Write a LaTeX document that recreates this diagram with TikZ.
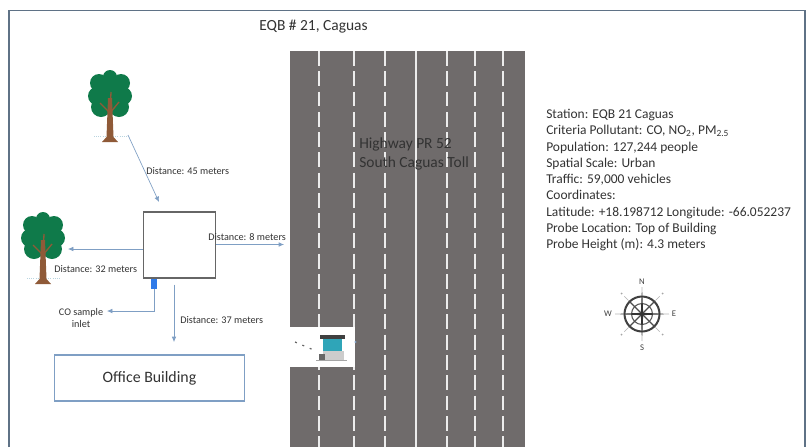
\documentclass[tikz,border=0pt]{standalone}
\usepackage{fontspec}
\setmainfont{Carlito}
\usetikzlibrary{arrows.meta}
\definecolor{roadc}{HTML}{6F6B6B}
\definecolor{framec}{HTML}{5F7286}
\definecolor{arrowc}{HTML}{7F9FC4}
\definecolor{txtc}{HTML}{333333}
\definecolor{leaf}{HTML}{0F7A4A}
\definecolor{bark}{HTML}{8F5A38}
\definecolor{boothc}{HTML}{2FA5B8}
\tikzset{
  x=0.75pt,y=-0.75pt,
  lbl/.style={inner sep=0pt,anchor=west,text=txtc,font=\fontsize{7.65pt}{9pt}\selectfont},
  conn/.style={draw=arrowc,line width=0.5pt,-{Latex[length=4pt,width=3.5pt]}},
  boxline/.style={draw=#1,line width=0.8pt,fill=white,inner sep=0pt},
  lanedash/.style={draw=white!85!gray,line width=0.8pt,dash pattern=on 11.2pt off 4pt},
  compasslbl/.style={inner sep=0pt,text=black!75,font=\fontsize{6.5pt}{7pt}\selectfont},
  pics/treepic/.style={code={
    \fill[leaf] (0,-18) circle[radius=7];
    \fill[leaf] (-11,-12) circle[radius=9] (11,-12) circle[radius=9]
      (-13,1) circle[radius=9] (13,1) circle[radius=9]
      (-9,12) circle[radius=10] (9,12) circle[radius=10] (0,0) circle[radius=17];
    \draw[draw=cyan!40!gray!45,line width=0.6pt,densely dotted] (-16,41) -- (17,41);
    \fill[bark] (-2,3) -- (2,3) -- (3.5,42) -- (8,47) -- (-8,47) -- (-3.5,42) -- cycle;
    \draw[bark,line width=1pt] (0,18) -- (-10,8) (0,18) -- (9,7) (0,18) -- (1,-3);
  }}
}
\begin{document}
\begin{tikzpicture}
\useasboundingbox (0,0) rectangle (806,447);
\fill[white] (0,0) rectangle (806,447);
% frame
\draw[framec,line width=1pt] (9,447) -- (9,10.5) -- (805,10.5) -- (805,447);
% road
\fill[roadc] (290,51) rectangle (525,447);
\foreach \lx in {319,354,385,447,475,503}{
  \draw[lanedash] (\lx,51) -- (\lx,447);
}
\draw[draw=white!85!gray,line width=0.8pt] (416,51) -- (416,447);
% toll plaza
\fill[white] (290,327) rectangle (355,367);
\fill[arrowc] (355.5,342) circle[radius=1.2];
\draw[gray!80!black,line width=0.9pt,dash pattern=on 1.5pt off 4.5pt] (295,342) -- (316,351);
\fill[black!75] (320,335) rectangle (345,339);
\fill[boothc] (323,339) rectangle (342,351);
\fill[gray!40] (323,351) rectangle (344,360);
\fill[black!60] (319,354) rectangle (325,360);
\draw[gray!70,line width=0.7pt] (316,360.5) -- (347,360.5);
% title
\node[inner sep=0pt,text=txtc,font=\fontsize{11.6pt}{13pt}\selectfont] (title) at (313.5,27) {EQB \# 21, Caguas};
% trees
\pic at (110,95) {treepic};
\pic at (43,237) {treepic};
% buildings
\node[boxline=black!60,minimum width=54.5pt,minimum height=49.5pt] (station) at (179.5,245) {};
\node[draw=none,fill=arrowc!50!blue!75!cyan,minimum width=5.2pt,minimum height=7.5pt,inner sep=0pt] (inlet) at (154,283.5) {};
\node[boxline=arrowc,minimum width=143pt,minimum height=34.5pt,text=txtc,font=\fontsize{11.9pt}{13pt}\selectfont] (office) at (149.5,378) {Office Building};
% free ends
\coordinate (treeA) at (128,135);
\coordinate (aboveStation) at (159,202);
\coordinate (treeB) at (68,249);
\coordinate (roadEdge) at (284,244.5);
\coordinate (inletEnd) at (107,311);
\coordinate (belowStation) at (174,342);
% connectors
\draw[conn] (treeA) -- (aboveStation);
\draw[conn] (station.west |- treeB) -- (treeB);
\draw[conn] (station.east |- roadEdge) -- (roadEdge);
\draw[conn] (inlet.south) |- (inletEnd);
\draw[conn] ([yshift=-4.5pt]belowStation |- station.south) -- (belowStation);
% labels
\node[lbl] (d45) at (146,171) {Distance: 45 meters};
\node[lbl] (d8) at (208,237) {Distance: 8 meters};
\node[lbl] (d32) at (54,269) {Distance: 32 meters};
\node[lbl] (d37) at (180,320) {Distance: 37 meters};
\node[inner sep=0pt,align=center,text=txtc,font=\fontsize{7.65pt}{9.2pt}\selectfont] (co) at (81,318) {CO sample\\inlet};
\node[inner sep=0pt,anchor=west,align=left,text=black!80,font=\fontsize{11.6pt}{14.3pt}\selectfont] (hwy) at (359,153.5) {Highway PR 52\\South Caguas Toll};
\node[inner sep=0pt,anchor=north west,align=left,text=txtc,font=\fontsize{10.1pt}{12.2pt}\selectfont] (info) at (546,109) {Station: EQB 21 Caguas\\
Criteria Pollutant: CO, NO\textsubscript{2}, PM\textsubscript{2.5}\\
Population: 127,244 people\\
Spatial Scale: Urban\\
Traffic: 59,000 vehicles\\
Coordinates:\\
Latitude: +18.198712 Longitude: -66.052237\\
Probe Location: Top of Building\\
Probe Height (m): 4.3 meters};
% compass
\begin{scope}[shift={(642,314)}]
\draw[black!75,line width=1.5pt] (0,0) circle[radius=17.5];
\draw[black!65,line width=0.8pt] (0,0) circle[radius=10.5];
\foreach \a in {45,135,225,315}{
  \draw[black!70,line width=0.9pt] (0,0) -- (\a:18);
  \draw[black!30,line width=0.5pt] (\a:19) -- (\a:25);
  \fill[black!35] (\a:29) circle[radius=1];
}
\fill[black!80] (-1.2,0) -- (0,-27) -- (1.2,0) -- (0,27) -- cycle;
\fill[black!80] (0,-1.2) -- (-27,0) -- (0,1.2) -- (27,0) -- cycle;
\node[compasslbl] (nN) at (0,-32) {N};
\node[compasslbl] (nS) at (0,34) {S};
\node[compasslbl] (nW) at (-34,0) {W};
\node[compasslbl] (nE) at (32,0) {E};
\end{scope}
\end{tikzpicture}
\end{document}
